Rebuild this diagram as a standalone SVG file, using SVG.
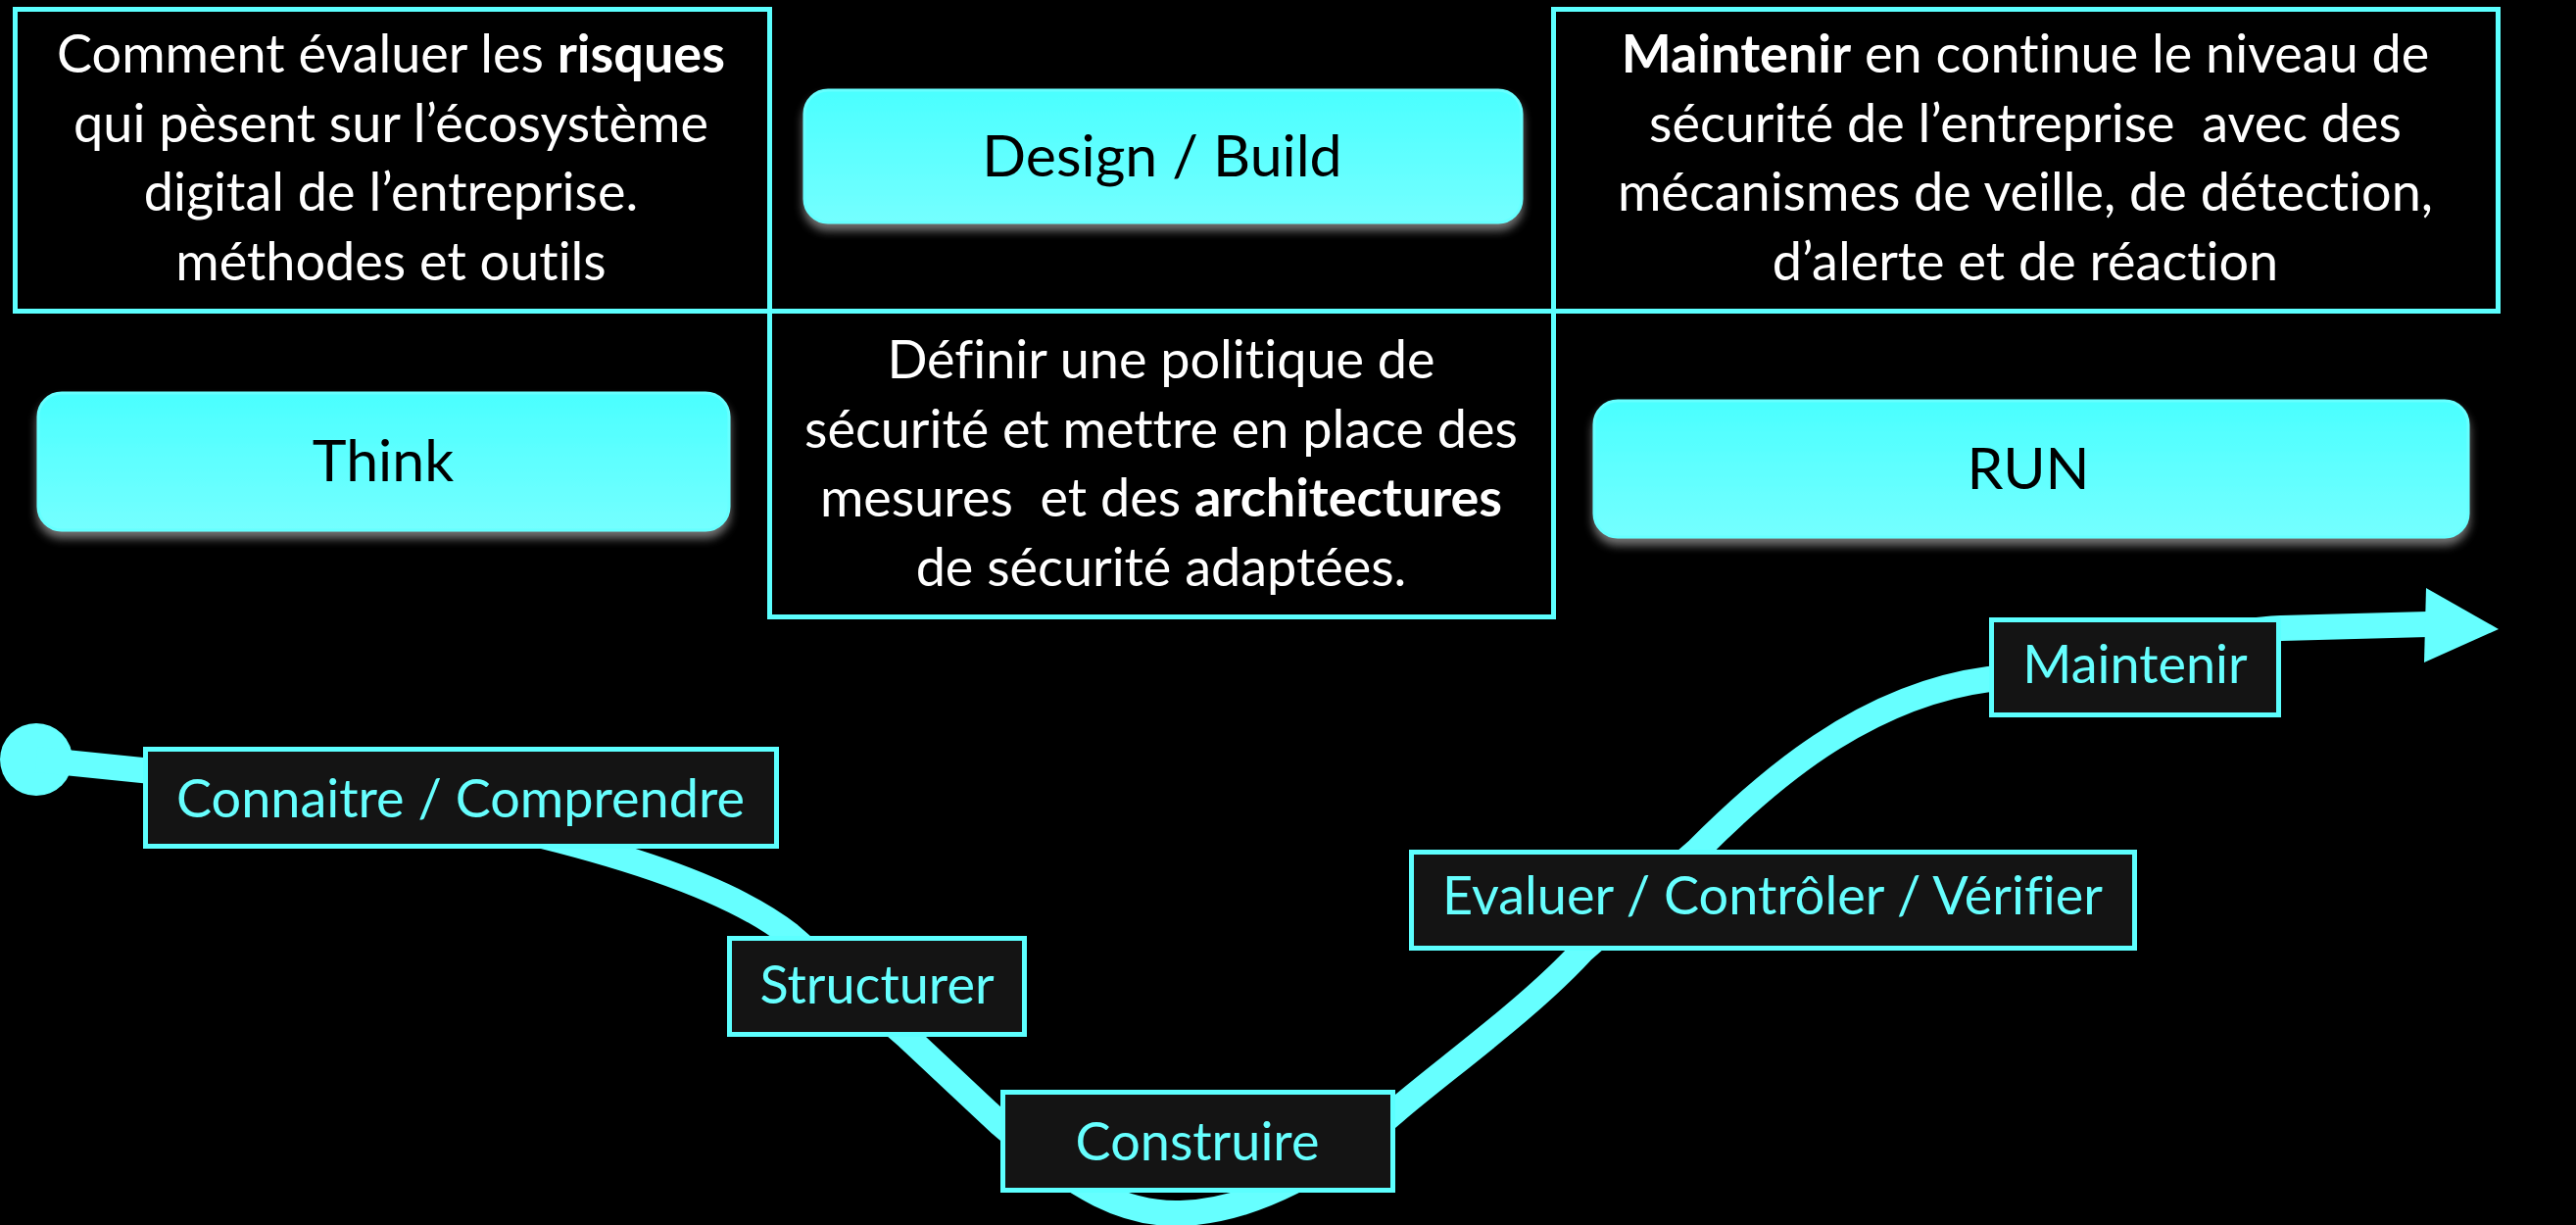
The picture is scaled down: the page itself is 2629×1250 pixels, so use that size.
<svg xmlns="http://www.w3.org/2000/svg" width="2629" height="1250" viewBox="0 0 2629 1250">
<defs>
<linearGradient id="pillGrad" x1="0" y1="0" x2="0" y2="1">
<stop offset="0" stop-color="#4AFFFF"/>
<stop offset="1" stop-color="#74FFFF"/>
</linearGradient>
<filter id="shadow" x="-5%" y="-20%" width="110%" height="150%">
<feDropShadow dx="0" dy="7" stdDeviation="5" flood-color="#9a9a9a" flood-opacity="0.75"/>
</filter>
<style>
text{font-variant-ligatures:none;font-feature-settings:"liga" 0}
.frame{fill:none;stroke:#5CFFFF;stroke-width:5}
.pill{fill:url(#pillGrad);stroke:#66FFFF;stroke-width:3;filter:url(#shadow)}
.step{fill:#141414;stroke:#5CFFFF;stroke-width:5}
.desc{font-family:Lato,"Open Sans",sans-serif;font-size:54px;fill:#FFFFFF;text-anchor:middle}
.pilltxt{font-family:Lato,"Open Sans",sans-serif;font-size:59px;fill:#000000;text-anchor:middle}
.steptxt{font-family:Lato,"Open Sans",sans-serif;font-size:54px;fill:#66FFFF;text-anchor:middle}
.b{font-weight:bold}
.curve{fill:none;stroke:#66FFFF;stroke-width:26;stroke-linejoin:round}
</style>
</defs>
<rect width="2629" height="1250" fill="#000000"/>

<g id="connectors">
<circle cx="37" cy="775" r="37" fill="#66FFFF"/>
<path class="curve" d="M37,775 L145,786 C400,810 700,870 806,954 L926,1058 L1021,1147 C1100,1215 1150,1240 1205,1238 C1280,1236 1360,1190 1424,1134 C1470,1094 1560,1030 1615,970 L1733,867 C1800,800 1900,710 2030,693 C2150,675 2250,645 2328,641 L2478,637"/>
<polygon points="2476,600 2550,642 2474,676" fill="#66FFFF"/>
</g>

<g id="box-think-desc">
<rect class="frame" x="15.5" y="9.5" width="770" height="308"/>
<text class="desc" x="399" y="74">Comment évaluer les <tspan class="b">risques</tspan></text>
<text class="desc" x="399" y="144.5">qui pèsent sur l’écosystème</text>
<text class="desc" x="399" y="215">digital de l’entreprise.</text>
<text class="desc" x="399" y="285.5">méthodes et outils</text>
</g>

<g id="box-build-desc">
<rect class="frame" x="785.5" y="317.5" width="800" height="312"/>
<text class="desc" x="1185" y="386">Définir une politique de</text>
<text class="desc" x="1185" y="456.5">sécurité et mettre en place des</text>
<text class="desc" x="1185" y="527" xml:space="preserve">mesures  et des <tspan class="b">architectures</tspan></text>
<text class="desc" x="1185" y="597.5">de sécurité adaptées.</text>
</g>

<g id="box-run-desc">
<rect class="frame" x="1585.5" y="9.5" width="964" height="308"/>
<text class="desc" x="2067" y="74"><tspan class="b">Maintenir</tspan> en continue le niveau de</text>
<text class="desc" x="2067" y="144.5" xml:space="preserve">sécurité de l’entreprise  avec des</text>
<text class="desc" x="2067" y="215">mécanismes de veille, de détection,</text>
<text class="desc" x="2067" y="285.5">d’alerte et de réaction</text>
</g>

<g id="pill-design">
<rect class="pill" x="821" y="92" width="732" height="135" rx="24"/>
<text class="pilltxt" x="1186" y="180">Design / Build</text>
</g>

<g id="pill-think">
<rect class="pill" x="39" y="401" width="705" height="140" rx="24"/>
<text class="pilltxt" x="391" y="491">Think</text>
</g>

<g id="pill-run">
<rect class="pill" x="1627" y="409" width="892" height="139" rx="24"/>
<text class="pilltxt" x="2070" y="499">RUN</text>
</g>

<g id="step-connaitre">
<rect class="step" x="148.5" y="764.5" width="644" height="99"/>
<text class="steptxt" x="470" y="834">Connaitre / Comprendre</text>
</g>

<g id="step-structurer">
<rect class="step" x="744.5" y="957.5" width="301" height="98"/>
<text class="steptxt" x="895" y="1024">Structurer</text>
</g>

<g id="step-construire">
<rect class="step" x="1023.5" y="1114.5" width="398" height="100"/>
<text class="steptxt" x="1222" y="1184">Construire</text>
</g>

<g id="step-evaluer">
<rect class="step" x="1440.5" y="869.5" width="738" height="98"/>
<text class="steptxt" x="1809" y="933">Evaluer / Contrôler / Vérifier</text>
</g>

<g id="step-maintenir">
<rect class="step" x="2032.5" y="632.5" width="293" height="97"/>
<text class="steptxt" x="2179" y="697">Maintenir</text>
</g>
</svg>
